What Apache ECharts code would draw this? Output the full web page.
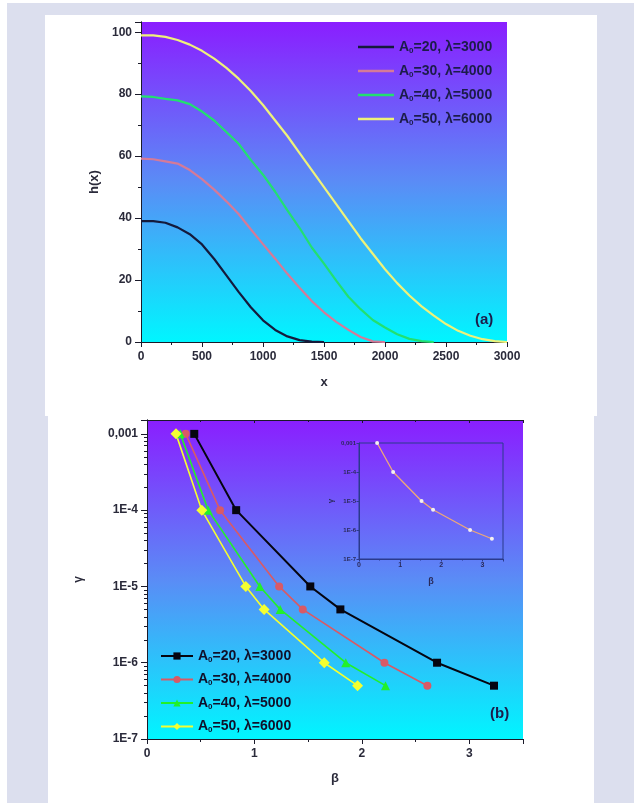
<!DOCTYPE html>
<html><head><meta charset="utf-8">
<script src="https://cdn.jsdelivr.net/npm/echarts@6/dist/echarts.min.js"></script>
<style>html,body{margin:0;padding:0;background:#fff}#c{width:634px;height:803px}</style>
</head><body><div id="c"></div><script>
// ---------- panel (a) data ----------
const xGrid = [0,100,200,300,400,500,600,700,800,900,1000,1100,1200,1300,1400,1500,1600,1700,1800,1900,2000,2100,2200,2300,2400,2500,2600,2700,2800,2900,3000];
const hA20 = [39,39,38.5,37,34.8,31.5,26.8,21.5,16.2,11.2,7.0,3.9,1.8,0.6,0.1,0];
const hA30 = [59.2,59,58.3,57.6,55.5,52.6,49.2,45.4,41.3,36.4,31.6,26.9,22.0,17.5,13.2,9.6,6.5,3.9,1.6,0.2,0];
const hA40 = [79.3,79.1,78.5,78,76.8,74.4,71.5,67.8,64,58.8,54,48.5,42.5,36.8,30.5,25.3,19.8,14.6,10.6,7.1,4.7,2.5,1.0,0.3,0];
const hA50 = [99,99,98.5,97.5,96,94,91.5,88.5,85,81,76.5,71.5,66.5,61,55.5,50,44.5,39,33.5,28.5,23.5,19,15,11.5,8.5,5.8,3.6,2,0.9,0.3,0];
const xTicksA = [0,500,1000,1500,2000,2500,3000];
const yTicksA = [0,20,40,60,80,100];
// ---------- panel (b) data ----------
const gammaVals = [1e-3,1e-4,1e-5,5e-6,1e-6,5e-7];
const betaA20 = [0.44,0.83,1.52,1.80,2.70,3.23];
const betaA30 = [0.36,0.68,1.23,1.45,2.21,2.61];
const betaA40 = [0.31,0.57,1.05,1.24,1.85,2.22];
const betaA50 = [0.27,0.51,0.92,1.09,1.65,1.96];
const yTickLabelsB = ['1E-7','1E-6','1E-5','1E-4','0,001'];
const seriesLabels = [['20','3000'],['30','4000'],['40','5000'],['50','6000']];

const FONT = '"Liberation Sans", Arial, sans-serif';
const TXT = '#2a2a3a';
const chart = echarts.init(document.getElementById('c'), null, {renderer:'canvas'});

const grad = () => new echarts.graphic.LinearGradient(0,0,0,1,[
  {offset:0,color:'#8a1eff'},{offset:0.5,color:'#5a8cf6'},{offset:1,color:'#00f6ff'}]);

function pairs(xs, ys){ return ys.map((y,i)=>[xs[i], y]); }
function logLabel(v){
  const e = Math.round(Math.log10(v));
  if (Math.abs(Math.log10(v) - e) > 1e-6) return '';
  return yTickLabelsB[e + 7] || '';
}
const lbl = (size, extra) => Object.assign({fontFamily:FONT, fontWeight:'bold', fontSize:size, color:TXT}, extra||{});
const axLine = {show:true, lineStyle:{color:'#1a1a2a', width:1}};

function mainX(grid, min, max, interval, name, nameGap, fs, ticks){
  return {type:'value', gridIndex:grid, min, max, interval, position:'bottom',
    name, nameLocation:'middle', nameGap, nameTextStyle:lbl(fs+1),
    axisLine:axLine, splitLine:{show:false},
    axisTick:{show:true, inside:false, length:5, lineStyle:{color:'#1a1a2a'}},
    minorTick:{show:true, splitNumber:2, length:3, lineStyle:{color:'#1a1a2a'}},
    axisLabel:Object.assign(lbl(fs), {margin:9, formatter: v => ticks.includes(v) ? String(v) : ''})};
}
function mirrorX(grid, min, max, interval){
  return {type:'value', gridIndex:grid, min, max, interval, position:'top',
    axisLine:axLine, splitLine:{show:false}, axisLabel:{show:false},
    axisTick:{show:true, inside:true, length:3, lineStyle:{color:'#1a1a2a'}},
    minorTick:{show:true, splitNumber:2, length:2, lineStyle:{color:'#1a1a2a'}}};
}

const topNames = seriesLabels.map(s=>'a|'+s[0]+'|'+s[1]);
const botNames = seriesLabels.map(s=>'b|'+s[0]+'|'+s[1]);
const legendFmt = n => { const p = n.split('|'); return '{a|A}{s|0}{a|='+p[1]+', λ='+p[2]+'}'; };

const topColors = ['#141a3c','#d57a98','#22e070','#eef27a'];
const botColors = ['#050510','#d85a66','#22f02a','#f4ff30'];
const topData = [hA20,hA30,hA40,hA50];
const botData = [betaA20,betaA30,betaA40,betaA50];
const botSymbols = ['rect','circle','triangle','diamond'];
const botSizes = [8,8,9,11];

const richFor = (fs, col) => ({a:{fontFamily:FONT, fontWeight:'bold', fontSize:fs, color:col},
  s:{fontFamily:FONT, fontWeight:'bold', fontSize:Math.round(fs*0.55), color:col, padding:[7,0,0,0]}});

const option = {
  animation:false,
  backgroundColor:'#ffffff',
  graphic:[
    {type:'rect', z:-10, silent:true, shape:{x:7,y:3,width:627,height:800}, style:{fill:'#dcdfee'}},
    {type:'rect', z:-9, silent:true, shape:{x:45,y:15,width:552,height:401}, style:{fill:'#ffffff'}},
    {type:'rect', z:-9, silent:true, shape:{x:48,y:415,width:546,height:388}, style:{fill:'#ffffff'}},
    {type:'text', z:10, left:475, top:312, style:{text:'(a)', font:'bold 15px '+FONT, fill:'#1c1c4a'}},
    {type:'text', z:10, left:490, top:706, style:{text:'(b)', font:'bold 15px '+FONT, fill:'#1c1c4a'}}
  ],
  grid:[
    {left:141, top:22, width:366, height:320, show:true, backgroundColor:grad(), borderWidth:0},
    {left:147, top:420, width:376, height:319, show:true, backgroundColor:grad(), borderWidth:0},
    {left:359, top:443, width:144, height:116, show:true, backgroundColor:'rgba(0,0,0,0)', borderColor:'#2b3a8c', borderWidth:1, z:5}
  ],
  xAxis:[
    mainX(0,0,3000,500,'x',34,12,xTicksA),
    mirrorX(0,0,3000,500),
    mainX(1,0,3.5,1,'β',33,12,[0,1,2,3]),
    mirrorX(1,0,3.5,1),
    {type:'value', gridIndex:2, min:0, max:3.5, interval:1, name:'β', nameLocation:'middle', nameGap:18,
      nameTextStyle:lbl(9,{color:'#2a2a5a'}), axisLine:{show:true, lineStyle:{color:'#2b3a8c'}}, splitLine:{show:false},
      axisTick:{show:true, inside:false, length:2.5, lineStyle:{color:'#2b3a8c'}},
      minorTick:{show:true, splitNumber:2, length:1.5, lineStyle:{color:'#2b3a8c'}},
      axisLabel:lbl(7,{margin:3, color:'#2a2a5a', formatter: v => [0,1,2,3].includes(v)?String(v):''})}
  ],
  yAxis:[
    {type:'value', gridIndex:0, min:0, max:103.3, interval:20, name:'h(x)', nameLocation:'middle', nameGap:40,
      nameTextStyle:lbl(13), axisLine:axLine, splitLine:{show:false},
      axisTick:{show:true, inside:false, length:6, lineStyle:{color:'#1a1a2a'}},
      minorTick:{show:true, splitNumber:2, length:3, lineStyle:{color:'#1a1a2a'}},
      axisLabel:lbl(12,{margin:9, formatter: v => yTicksA.includes(v)?String(v):''})},
    {type:'value', gridIndex:0, min:0, max:103.3, interval:20, position:'right',
      axisLine:axLine, splitLine:{show:false}, axisLabel:{show:false},
      axisTick:{show:true, inside:true, length:3, lineStyle:{color:'#1a1a2a'}},
      minorTick:{show:true, splitNumber:2, length:2, lineStyle:{color:'#1a1a2a'}}},
    {type:'log', gridIndex:1, min:1e-7, max:0.00152, logBase:10, name:'γ', nameLocation:'middle', nameGap:62,
      nameTextStyle:lbl(12), axisLine:axLine, splitLine:{show:false},
      axisTick:{show:true, inside:false, length:6, lineStyle:{color:'#1a1a2a'}},
      minorTick:{show:true, splitNumber:9, length:3, lineStyle:{color:'#1a1a2a'}},
      axisLabel:lbl(12,{margin:9, formatter: logLabel})},
    {type:'log', gridIndex:1, min:1e-7, max:0.00152, logBase:10, position:'right',
      axisLine:axLine, splitLine:{show:false}, axisLabel:{show:false},
      axisTick:{show:true, inside:true, length:3, lineStyle:{color:'#1a1a2a'}},
      minorTick:{show:false}},
    {type:'log', gridIndex:2, min:1e-7, max:1e-3, logBase:10, name:'γ', nameLocation:'middle', nameGap:24,
      nameTextStyle:lbl(8,{color:'#2a2a5a'}), axisLine:{show:true, lineStyle:{color:'#2b3a8c'}}, splitLine:{show:false},
      axisTick:{show:true, inside:false, length:2.5, lineStyle:{color:'#2b3a8c'}},
      axisLabel:lbl(6,{margin:3, color:'#2a2a5a', formatter: logLabel})}
  ],
  legend:[
    {data:topNames, orient:'vertical', left:353, top:35, icon:'rect', itemWidth:36, itemHeight:2.5, itemGap:9.5,
      formatter:legendFmt, textStyle:{color:'#1c1c4a', fontFamily:FONT, fontWeight:'bold', fontSize:14, rich:richFor(14,'#1c1c4a')}},
    {data:botNames, orient:'vertical', left:155, top:644, itemWidth:32, itemHeight:9, itemGap:9,
      formatter:legendFmt, textStyle:{color:'#10102a', fontFamily:FONT, fontWeight:'bold', fontSize:14, rich:richFor(14,'#10102a')}}
  ],
  series:[
    ...topData.map((arr,i)=>({type:'line', name:topNames[i], xAxisIndex:0, yAxisIndex:0, symbol:'none',
      data:pairs(xGrid, arr), lineStyle:{width:2.2, color:topColors[i]}, itemStyle:{color:topColors[i]}})),
    ...botData.map((arr,i)=>({type:'line', name:botNames[i], xAxisIndex:2, yAxisIndex:2, symbol:botSymbols[i], symbolSize:botSizes[i],
      data:pairs(arr, gammaVals), lineStyle:{width:i===0?2:1.6, color:botColors[i]}, itemStyle:{color:botColors[i]}})),
    {type:'line', name:'inset', xAxisIndex:4, yAxisIndex:4, symbol:'circle', symbolSize:4, z:6,
      data:pairs(betaA20, gammaVals), lineStyle:{width:1.3, color:'#eea878'}, itemStyle:{color:'#f4f0f0'}}
  ]
};
chart.setOption(option);
</script></body></html>
